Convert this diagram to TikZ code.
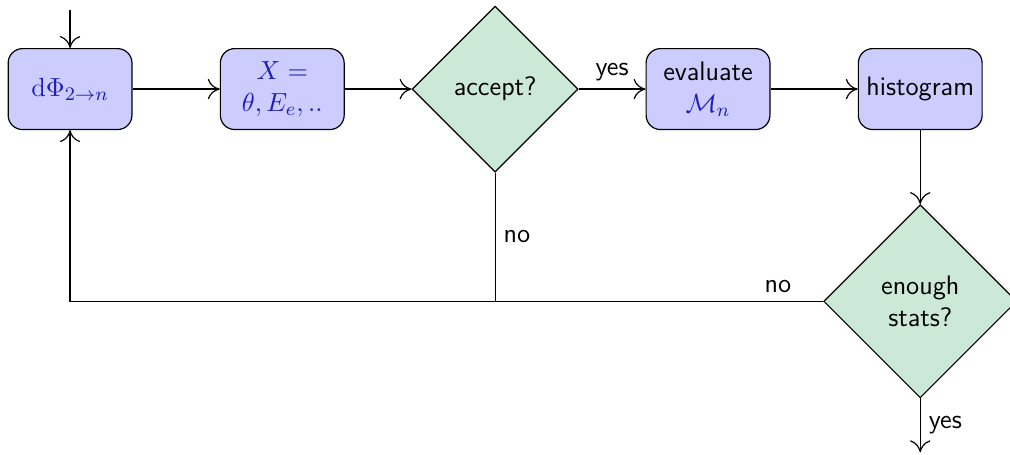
\documentclass[tikz,border=0pt]{standalone}
\usepackage{amsmath}
\usepackage{amssymb}
\usepackage{tikz}
\usetikzlibrary{positioning,shapes.geometric,arrows.meta}
\usepackage{xcolor}
\definecolor{boxblue}{RGB}{204,204,255}
\definecolor{decgreen}{RGB}{204,233,215}
\definecolor{mathblue}{RGB}{30,30,190}

\begin{document}
\begin{tikzpicture} [font=\sffamily\fontsize{11.2}{13.6}\selectfont, line width=0.5pt,
		stepbox/.style={draw, fill=boxblue, rounded corners=6pt, minimum width=1.82cm, minimum height=1.19cm, align=center},
		decision/.style={draw, fill=decgreen, diamond, aspect=1, inner sep=0pt, minimum size=2.44cm, align=center},
		>={To[length=5pt,width=8.5pt]}]
				\useasboundingbox (0,0) rectangle (14.85,6.68);
				\node [stepbox] (dphi) at (1.03,5.37) {\color{mathblue}$\mathrm{d}\Phi_{2\to n}$};
				\node [stepbox] (obs) at (4.15,5.37) {\color{mathblue}$X=$\\\color{mathblue}$\theta,E_e,..$};
				\node [decision] (accept) at (7.28,5.37) {accept?};
				\node [stepbox] (evaluate) at (10.41,5.37) {evaluate\\\color{mathblue}$\mathcal{M}_n$};
				\node [stepbox] (histo) at (13.53,5.37) {histogram};
				\node [decision, minimum size=2.84cm] (enough) at (13.53,2.25) {enough\\stats?};
				\coordinate (start) at (1.03,6.53);
				\coordinate (stop) at (13.53,0.03);
				\draw [->] (start) -- (dphi);
				\draw [->] (dphi) -- (obs);
				\draw [->] (obs) -- (accept);
				\draw [->] (accept) -- node[above] {yes} (evaluate);
				\draw [->] (evaluate) -- (histo);
				\draw [->] (histo) -- (enough);
				\draw [->] (enough) -- node[right] {yes} (stop);
				\draw (accept.south) -- node[right] {no} (accept.south |- enough.west);
				\draw [->] (enough.west) -- node[above, pos=0.06] {no} (enough.west -| dphi) -- (dphi.south);
			\end{tikzpicture}
\end{document}
